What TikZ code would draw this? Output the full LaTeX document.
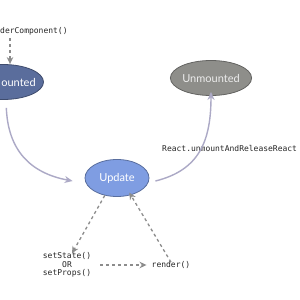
\documentclass[tikz,border=0pt]{standalone}
\usepackage{fontspec}
\setmainfont{Lato}
\setmonofont{DejaVu Sans Mono}
\usetikzlibrary{positioning,arrows.meta,shapes.geometric}

\definecolor{mountedblue}{HTML}{5A6D9C}
\definecolor{updateblue}{HTML}{7F9DE2}
\definecolor{unmountgrey}{HTML}{8E8E8A}
\definecolor{flowline}{HTML}{ACA9C6}
\definecolor{calldash}{HTML}{8C8C8C}

\begin{document}
\begin{tikzpicture}[
    x=1pt, y=-1pt,
    state/.style={
        ellipse,
        draw=#1!70!black,
        fill=#1,
        line width=0.8pt,
        minimum width=81pt,
        minimum height=35pt,
        inner sep=0pt,
        text=white,
        font=\fontsize{11}{11}\selectfont
    },
    call/.style={
        font=\ttfamily\fontsize{8}{8.6}\selectfont,
        text=black!85,
        align=center,
        inner sep=1pt
    },
    flow/.style={
        -{Stealth[length=8pt,width=7pt]},
        draw=flowline,
        line width=1.4pt
    },
    dasharrow/.style={
        -{Stealth[length=7pt,width=6.5pt]},
        draw=calldash,
        line width=1.3pt,
        dash pattern=on 3pt off 3pt
    }
]
\useasboundingbox[fill=white] (0,0) rectangle (300,300);

\node[call, anchor=west, inner sep=0pt] (rendercomp) at (0,31) {derComponent()};
\node[state=mountedblue,
      label={[text=white, font=\fontsize{11}{11}\selectfont, xshift=15.5pt]center:ounted}]
      (mounted) at (3,82) {};
\node[state=unmountgrey, text=white!85!gray] (unmounted) at (211,78) {Unmounted};
\node[state=updateblue, minimum width=64pt, minimum height=37pt] (update) at (117,178) {Update};

\node[call, anchor=west, inner sep=0pt] (unmountcall) at (162,148) {React.unmountAndReleaseReact};
\node[call] (setstate) at (67,265) {setState()\\OR\\setProps()};
\node[call] (render) at (171,265) {render()};

\draw[dasharrow] (10,38) -- (mounted.north -| 10,0);
\draw[flow, shorten <=8pt] (mounted.south -| 6,0)
    .. controls (8,150) and (30,173) .. ([xshift=-12pt,yshift=-3pt]update.west);
\draw[flow] ([xshift=6pt,yshift=-3pt]update.east)
    .. controls (200,170) and (211,140) .. ([yshift=4pt]unmounted.south);
\draw[dasharrow] (update.-125) -- ([xshift=5pt,yshift=-2pt]setstate.north);
\draw[dasharrow] ([xshift=8pt]setstate.east) -- ([xshift=-4pt]render.west);
\draw[dasharrow] ([yshift=-2pt]render.north) -- ([yshift=3pt]update.-55);

\end{tikzpicture}
\end{document}
